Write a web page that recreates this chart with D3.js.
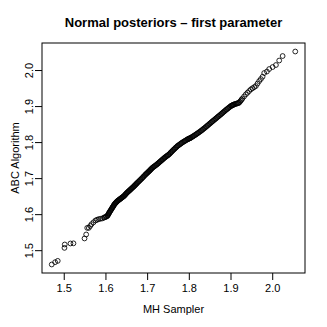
<!DOCTYPE html>
<html>
<head>
<meta charset="utf-8">
<script src="https://cdn.jsdelivr.net/npm/d3@7"></script>
<style>
  html, body { margin: 0; padding: 0; background: #fff; }
  svg { display: block; font-family: "Liberation Sans", Arial, Helvetica, sans-serif; }
</style>
</head>
<body>
<svg id="chart" width="327" height="327"></svg>
<script>
// Sorted quantiles (QQ plot): MH Sampler (x) vs ABC Algorithm (y)
const mhSampler = [
  1.4712, 1.4793, 1.4856, 1.5017, 1.5024, 1.5161, 1.5233, 1.5498, 1.5538, 1.5563,
  1.5601, 1.5634, 1.5666, 1.5714, 1.5762, 1.5798, 1.5834, 1.5879, 1.5923,
  1.5963, 1.5983, 1.6003, 1.6023, 1.6043, 1.6052, 1.6062, 1.6071, 1.6080, 1.6089, 1.6099, 1.6109, 1.6120, 1.6131, 1.6142, 1.6152, 1.6163, 1.6172, 1.6182, 1.6191, 1.6200, 1.6209, 1.6219, 1.6230, 1.6241, 1.6251, 1.6262, 1.6273, 1.6284, 1.6297, 1.6310, 1.6323, 1.6337, 1.6350, 1.6363, 1.6376, 1.6389, 1.6402, 1.6416, 1.6429, 1.6442, 1.6455, 1.6468, 1.6480, 1.6493, 1.6506, 1.6519, 1.6533, 1.6547, 1.6561, 1.6575, 1.6589, 1.6603, 1.6617, 1.6631, 1.6645, 1.6660, 1.6674, 1.6688, 1.6700, 1.6713, 1.6726, 1.6739, 1.6751, 1.6764, 1.6781, 1.6799, 1.6816, 1.6833, 1.6850, 1.6868, 1.6884, 1.6900, 1.6916, 1.6932, 1.6948, 1.6964, 1.6978, 1.6992, 1.7006, 1.7020, 1.7034, 1.7048, 1.7061, 1.7074, 1.7086, 1.7099, 1.7112, 1.7125, 1.7142, 1.7159, 1.7176, 1.7194, 1.7211, 1.7228, 1.7244, 1.7260, 1.7276, 1.7293, 1.7309, 1.7325, 1.7341, 1.7357, 1.7373, 1.7389, 1.7405, 1.7421, 1.7438, 1.7455, 1.7472, 1.7490, 1.7507, 1.7524, 1.7541, 1.7558, 1.7574, 1.7591, 1.7608, 1.7625, 1.7642, 1.7659, 1.7675, 1.7692, 1.7709, 1.7726, 1.7745, 1.7764, 1.7783, 1.7803, 1.7822, 1.7841, 1.7862, 1.7883, 1.7903, 1.7924, 1.7945, 1.7966, 1.7979, 1.7993, 1.8006, 1.8019, 1.8032, 1.8046, 1.8066, 1.8086, 1.8106, 1.8126, 1.8146, 1.8166, 1.8186, 1.8206, 1.8226, 1.8246, 1.8266, 1.8286, 1.8306, 1.8326, 1.8346, 1.8366, 1.8386, 1.8406, 1.8426, 1.8446, 1.8466, 1.8486, 1.8506, 1.8526, 1.8546, 1.8566, 1.8586, 1.8607, 1.8627, 1.8647, 1.8667, 1.8687, 1.8707, 1.8727, 1.8747, 1.8767, 1.8787, 1.8807, 1.8827, 1.8847, 1.8867, 1.8887, 1.8907, 1.8927, 1.8947, 1.8967, 1.8987, 1.9007, 1.9020, 1.9034, 1.9047, 1.9060, 1.9073, 1.9087, 1.9107, 1.9127, 1.9147, 1.9167, 1.9187, 1.9207, 1.9226, 1.9246, 1.9265, 1.9284,
  1.9326, 1.9368, 1.9408, 1.9448, 1.9488, 1.9528, 1.9568, 1.9608, 1.9648, 1.9688,
  1.9728, 1.9769, 1.9808, 1.9873, 1.9928, 2.0010, 2.0089, 2.0168, 2.0250, 2.0553
];
const abcAlgorithm = [
  1.4603, 1.4667, 1.4703, 1.5064, 1.5158, 1.5186, 1.5190, 1.5325, 1.5436, 1.5619,
  1.5619, 1.5671, 1.5722, 1.5774, 1.5825, 1.5843, 1.5861, 1.5871, 1.5881,
  1.5902, 1.5912, 1.5923, 1.5933, 1.5944, 1.5962, 1.5981, 1.6000, 1.6019, 1.6037, 1.6056, 1.6076, 1.6096, 1.6115, 1.6135, 1.6155, 1.6175, 1.6192, 1.6209, 1.6226, 1.6244, 1.6261, 1.6278, 1.6292, 1.6306, 1.6319, 1.6333, 1.6347, 1.6361, 1.6372, 1.6384, 1.6396, 1.6408, 1.6419, 1.6431, 1.6442, 1.6454, 1.6465, 1.6477, 1.6488, 1.6500, 1.6516, 1.6532, 1.6548, 1.6565, 1.6581, 1.6597, 1.6612, 1.6627, 1.6641, 1.6656, 1.6671, 1.6686, 1.6701, 1.6717, 1.6732, 1.6747, 1.6762, 1.6778, 1.6793, 1.6808, 1.6823, 1.6839, 1.6854, 1.6869, 1.6888, 1.6908, 1.6927, 1.6947, 1.6966, 1.6986, 1.7005, 1.7025, 1.7044, 1.7064, 1.7083, 1.7103, 1.7118, 1.7133, 1.7148, 1.7164, 1.7179, 1.7194, 1.7209, 1.7225, 1.7240, 1.7255, 1.7270, 1.7286, 1.7301, 1.7316, 1.7330, 1.7345, 1.7360, 1.7375, 1.7391, 1.7407, 1.7423, 1.7440, 1.7456, 1.7472, 1.7488, 1.7504, 1.7520, 1.7537, 1.7553, 1.7569, 1.7584, 1.7599, 1.7613, 1.7628, 1.7643, 1.7658, 1.7678, 1.7698, 1.7718, 1.7738, 1.7758, 1.7778, 1.7796, 1.7815, 1.7833, 1.7852, 1.7870, 1.7889, 1.7905, 1.7921, 1.7937, 1.7954, 1.7970, 1.7986, 1.8001, 1.8016, 1.8030, 1.8045, 1.8060, 1.8075, 1.8082, 1.8090, 1.8097, 1.8104, 1.8111, 1.8119, 1.8134, 1.8149, 1.8163, 1.8178, 1.8193, 1.8208, 1.8224, 1.8241, 1.8257, 1.8273, 1.8289, 1.8306, 1.8324, 1.8343, 1.8361, 1.8380, 1.8398, 1.8417, 1.8437, 1.8457, 1.8476, 1.8496, 1.8516, 1.8536, 1.8555, 1.8575, 1.8594, 1.8614, 1.8633, 1.8653, 1.8672, 1.8692, 1.8711, 1.8730, 1.8749, 1.8769, 1.8789, 1.8809, 1.8829, 1.8849, 1.8869, 1.8889, 1.8907, 1.8926, 1.8944, 1.8963, 1.8981, 1.9000, 1.9008, 1.9016, 1.9023, 1.9031, 1.9039, 1.9047, 1.9054, 1.9062, 1.9069, 1.9077, 1.9084, 1.9092, 1.9121, 1.9150, 1.9179, 1.9208,
  1.9267, 1.9325, 1.9371, 1.9418, 1.9464, 1.9495, 1.9525, 1.9556, 1.9625, 1.9694,
  1.9750, 1.9814, 1.9917, 1.9958, 2.0028, 2.0083, 2.0139, 2.0264, 2.0389, 2.0514
];
const xTicks = [1.5, 1.6, 1.7, 1.8, 1.9, 2.0];
const yTicks = [1.5, 1.6, 1.7, 1.8, 1.9, 2.0];
const titleText = "Normal posteriors \u2013 first parameter";
const xLabel = "MH Sampler";
const yLabel = "ABC Algorithm";

const svg = d3.select("#chart");
const plotL = 42, plotR = 305, plotT = 43, plotB = 273;

// R-style 4% padding around data range
function padded(arr) {
  const [lo, hi] = d3.extent(arr);
  const p = (hi - lo) * 0.04;
  return [lo - p, hi + p];
}
const x = d3.scaleLinear().domain(padded(mhSampler)).range([plotL, plotR]);
const y = d3.scaleLinear().domain(padded(abcAlgorithm)).range([plotB, plotT]);

const n = Math.min(mhSampler.length, abcAlgorithm.length);
const pts = d3.range(n).map(i => [mhSampler[i], abcAlgorithm[i]]);

svg.append("g")
  .selectAll("circle")
  .data(pts)
  .join("circle")
  .attr("cx", d => x(d[0]))
  .attr("cy", d => y(d[1]))
  .attr("r", 2.4)
  .attr("fill", "none")
  .attr("stroke", "#000")
  .attr("stroke-width", 0.85);

// Box
svg.append("rect")
  .attr("x", plotL).attr("y", plotT)
  .attr("width", plotR - plotL).attr("height", plotB - plotT)
  .attr("fill", "none").attr("stroke", "#000").attr("stroke-width", 1);

// X axis
const gx = svg.append("g").attr("transform", `translate(0,${plotB})`)
  .call(d3.axisBottom(x).tickValues(xTicks).tickSize(7).tickFormat(d3.format(".1f")));
gx.select(".domain").remove();
gx.selectAll(".tick line").attr("stroke", "#000");
gx.selectAll(".tick text")
  .attr("y", 19).attr("dy", null)
  .attr("font-size", 11).attr("fill", "#000")
  .style("font-family", "'Liberation Sans', Arial, sans-serif");

// Y axis
const gy = svg.append("g").attr("transform", `translate(${plotL},0)`)
  .call(d3.axisLeft(y).tickValues(yTicks).tickSize(7).tickFormat(d3.format(".1f")));
gy.select(".domain").remove();
gy.selectAll(".tick line").attr("stroke", "#000");
gy.selectAll(".tick text")
  .attr("x", 0).attr("y", -9).attr("dy", null)
  .attr("transform", "rotate(-90)")
  .attr("text-anchor", "middle")
  .attr("font-size", 11).attr("fill", "#000")
  .style("font-family", "'Liberation Sans', Arial, sans-serif");

// Title
svg.append("text")
  .attr("x", (plotL + plotR) / 2).attr("y", 27)
  .attr("text-anchor", "middle")
  .attr("font-size", 13).attr("font-weight", "bold")
  .text(titleText);

// Axis labels
svg.append("text")
  .attr("x", (plotL + plotR) / 2).attr("y", 313)
  .attr("text-anchor", "middle")
  .attr("font-size", 11)
  .text(xLabel);

svg.append("text")
  .attr("transform", `translate(19,${(plotT + plotB) / 2}) rotate(-90)`)
  .attr("text-anchor", "middle")
  .attr("font-size", 11)
  .text(yLabel);
</script>
</body>
</html>
